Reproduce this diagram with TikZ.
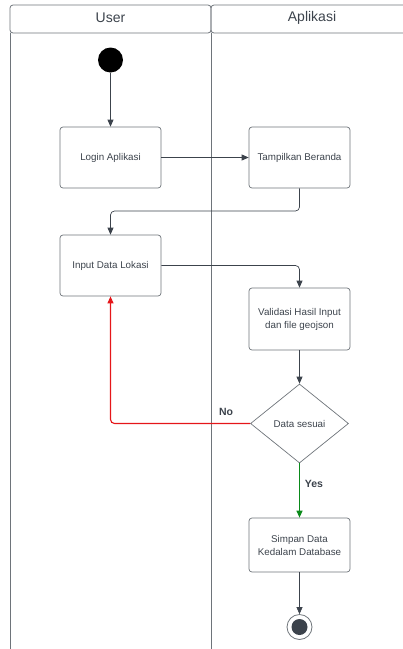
\documentclass[tikz,border=0pt]{standalone}
\usepackage{fontspec}
\setmainfont{Liberation Sans}
\usetikzlibrary{shapes.geometric,arrows.meta}
\definecolor{txtgray}{HTML}{3C434C}
\definecolor{linegray}{HTML}{6E747A}
\definecolor{noRed}{HTML}{E5161A}
\definecolor{yesGreen}{HTML}{0A8A1A}
\begin{document}
\begin{tikzpicture}[x=1pt,y=-1pt,
  lane/.style={draw=linegray,line width=0.8pt,rounded corners=3pt},
  act/.style={draw=linegray,line width=0.7pt,rounded corners=3pt,minimum width=101pt,minimum height=61pt,inner sep=0pt,align=center,text=txtgray,font=\fontsize{9.8}{13}\selectfont},
  cond/.style={diamond,draw=linegray,line width=0.7pt,minimum width=98pt,minimum height=79pt,inner sep=0pt,text=txtgray,font=\fontsize{9.8}{13}\selectfont},
  flow/.style={draw=txtgray,line width=0.7pt,rounded corners=4pt,-{Triangle[length=7pt,width=6pt]}},
  guard/.style={font=\bfseries\fontsize{10.5}{12}\selectfont,text=txtgray,inner sep=1pt}]
\useasboundingbox (0,0) rectangle (403,649);
\clip (0,0) rectangle (403,649);
\draw[lane] (10,5) rectangle (211,33);
\draw[lane] (211,5) rectangle (420,33);
\draw[linegray,line width=0.8pt] (10,33) -- (10,652);
\draw[linegray,line width=0.8pt] (211,33) -- (211,652);
\node[text=txtgray,font=\fontsize{14}{16}\selectfont] (user) at (110.5,18) {User};
\node[text=txtgray,font=\fontsize{14}{16}\selectfont] (aplikasi) at (312,18) {Aplikasi};
\node[circle,fill=black,minimum size=25pt,inner sep=0pt] (start) at (110.5,60) {};
\node[act,minimum height=61pt] (login) at (110.5,157.5) {Login Aplikasi};
\node[act,minimum height=61pt] (beranda) at (299.5,157.5) {Tampilkan Beranda};
\node[act,minimum height=61pt] (input) at (110.5,265.5) {Input Data Lokasi};
\node[act,minimum height=62pt] (validasi) at (299.5,319) {Validasi Hasil Input\\dan file geojson};
\node[cond] (sesuai) at (299.5,423.5) {Data sesuai};
\node[act,minimum height=54pt] (simpan) at (299.5,545) {Simpan Data\\Kedalam Database};
\node[circle,draw=linegray,line width=0.8pt,fill=white,minimum size=25pt,inner sep=0pt] (final) at (299.5,627) {};
\node[circle,fill=txtgray,minimum size=16pt,inner sep=0pt] (finaldot) at (final) {};
\coordinate (c1) at (299.5,211);
\coordinate (c2) at (110.5,211);
\coordinate (c3) at (299.5,265.5);
\coordinate (c4) at (110.5,423.5);
\draw[flow] (start) -- (login);
\draw[flow] (login) -- (beranda);
\draw[flow] (beranda) -- (c1) -- (c2) -- (input);
\draw[flow] (input) -- (c3) -- (validasi);
\draw[flow] (validasi) -- (sesuai);
\draw[flow,draw=noRed,line width=1.1pt] (sesuai.west) -- (c4) -- (input.south);
\draw[flow,draw=yesGreen,line width=1.1pt] (sesuai.south) -- (simpan.north);
\draw[flow] (simpan) -- (final);
\node[guard] (no) at (226,412) {No};
\node[guard] (yes) at (314,484) {Yes};
\end{tikzpicture}
\end{document}
